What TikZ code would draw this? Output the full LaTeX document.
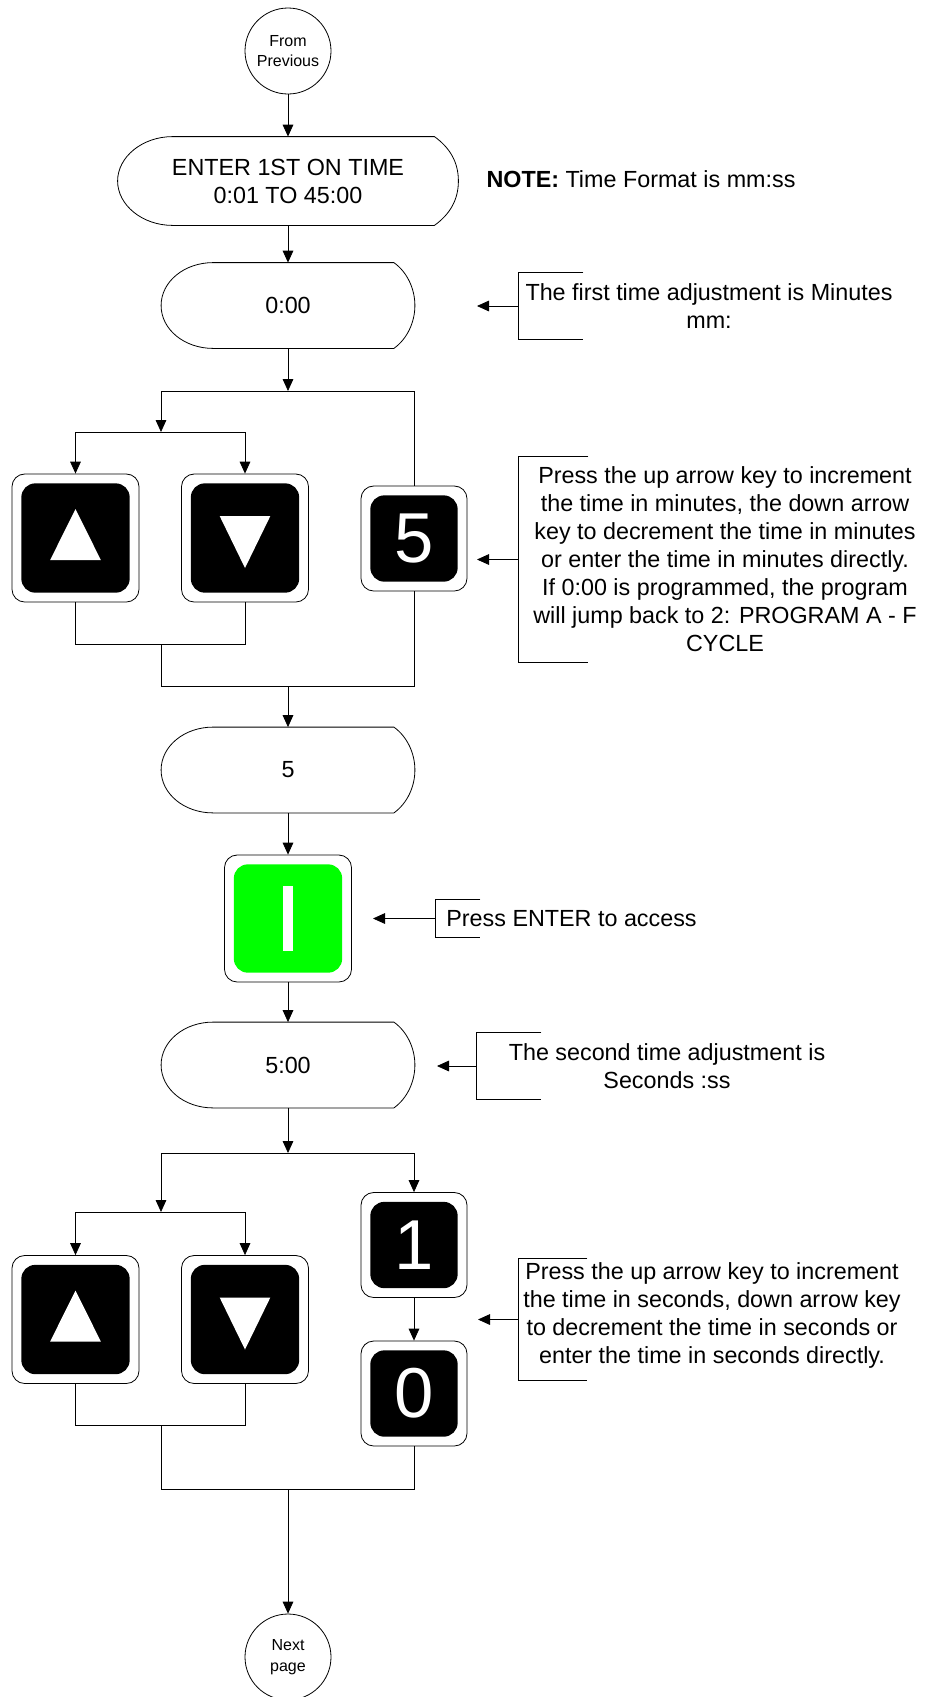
\documentclass[tikz,border=0pt]{standalone}
\usepackage{fontspec}
\setmainfont{Liberation Sans}
\usetikzlibrary{arrows.meta,calc,positioning}
\definecolor{entergreen}{RGB}{0,255,0}

% inner face of a key
\newcommand{\keyface}[1]{\fill[#1, rounded corners=10.5pt]
  ([shift={(7pt,-7pt)}]path picture bounding box.north west) rectangle
  ([shift={(-7pt,7pt)}]path picture bounding box.south east);}
% display outline round a node: node, left inset, right inset
\newcommand{\dispoutline}[3]{\draw ($(#1.north west)+(#2,0)$) -- ($(#1.north east)+(-#3,0)$)
  .. controls +(0.63*#3,0.45*#3) and +(0,-0.8*#3) .. (#1.east)
  .. controls +(0,0.8*#3) and +(0.63*#3,-0.45*#3) .. ($(#1.south east)+(-#3,0)$)
  -- ($(#1.south west)+(#2,0)$)
  .. controls +(-0.552*#2,0) and +(0,24) .. (#1.west)
  .. controls +(0,-24) and +(-0.552*#2,0) .. ($(#1.north west)+(#2,0)$) -- cycle;}

\begin{document}
\begin{tikzpicture}[
    x=0.75pt, y=-0.75pt,
    font=\fontsize{17.5}{21}\selectfont,
    line width=0.6pt,
    arr/.style={-{Triangle[length=9pt,width=8pt]}},
    disp/.style={minimum width=189.75pt, minimum height=63.75pt, inner sep=0pt, align=center},
    circ/.style={draw, circle, minimum size=64.5pt, inner sep=0pt, align=center, font=\fontsize{12}{15.5}\selectfont},
    keyshell/.style={draw, fill=white, rounded corners=9.5pt, inner sep=0pt},
    upkey/.style={keyshell, minimum width=95.25pt, minimum height=96pt,
        path picture={\keyface{black}
            \fill[white, sharp corners] ([shift={(0pt,21.75pt)}]path picture bounding box.center)
            -- ([shift={(-19pt,-16.5pt)}]path picture bounding box.center)
            -- ([shift={(19pt,-16.5pt)}]path picture bounding box.center) -- cycle;}},
    downkey/.style={keyshell, minimum width=95.25pt, minimum height=96pt,
        path picture={\keyface{black}
            \fill[white, sharp corners] ([shift={(0pt,-22.5pt)}]path picture bounding box.center)
            -- ([shift={(-19pt,16.5pt)}]path picture bounding box.center)
            -- ([shift={(19pt,16.5pt)}]path picture bounding box.center) -- cycle;}},
    digitkey/.style={keyshell, minimum width=79.5pt, minimum height=78.75pt,
        text=white, font=\fontsize{53}{53}\selectfont, path picture={\keyface{black}}},
    enterkey/.style={keyshell, minimum width=95.25pt, minimum height=95.25pt,
        path picture={\keyface{entergreen}
            \fill[white, sharp corners] ([shift={(-4pt,24.4pt)}]path picture bounding box.center)
            rectangle ([shift={(4pt,-24.4pt)}]path picture bounding box.center);}},
    bracket/.style={inner sep=0pt},
    note/.style={align=center, inner sep=0pt}
]
\useasboundingbox (0,0) rectangle (930,1697);

% main flow
\node[circ] (prev) at (288,51) {From\\Previous};
\node[disp, minimum width=255pt, minimum height=66pt] (dEnter) at (288,181) {ENTER 1ST ON TIME\\0:01 TO 45:00};
\dispoutline{dEnter}{55}{24}
\node[disp] (dMin) at (288,305.5) {0:00};
\dispoutline{dMin}{52}{21}

\coordinate (j1) at (288,391);
\coordinate (j2) at (161,432);
\node[upkey] (up1) at (75.5,538) {};
\node[downkey] (down1) at (245,538) {};
\node[digitkey] (five) at (414,538.5) {5};
\coordinate (j5) at (161,644);
\coordinate (j6) at (288,686);

\node[disp] (dFive) at (288,770) {5};
\dispoutline{dFive}{52}{21}
\node[enterkey] (enter) at (288,918.5) {};
\node[disp] (dSec) at (288,1065) {5:00};
\dispoutline{dSec}{52}{21}

\coordinate (j7) at (288,1153);
\coordinate (j8) at (161,1212);
\node[upkey] (up2) at (75.5,1319.5) {};
\node[downkey] (down2) at (245,1319.5) {};
\node[digitkey] (one) at (414,1245) {1};
\node[digitkey] (zero) at (414,1393.5) {0};
\coordinate (j9) at (161,1425);
\coordinate (j10) at (288,1489);
\node[circ] (next) at (288,1657) {Next\\page};

% connectors
\draw[arr] (prev) -- (dEnter);
\draw[arr] (dEnter) -- (dMin);
\draw[arr] (dMin) -- (j1);
\draw[arr] (j1) -| (j2);
\draw (j1) -| (five.north);
\draw[arr] (j2) -| (up1.north);
\draw[arr] (j2) -| (down1.north);
\draw (up1.south) |- (j5);
\draw (down1.south) |- (j5);
\draw (j5) |- (j6);
\draw (five.south) |- (j6);
\draw[arr] (j6) -- (dFive);
\draw[arr] (dFive) -- (enter);
\draw[arr] (enter) -- (dSec);
\draw[arr] (dSec) -- (j7);
\draw[arr] (j7) -| (j8);
\draw[arr] (j7) -| (one.north);
\draw[arr] (j8) -| (up2.north);
\draw[arr] (j8) -| (down2.north);
\draw[arr] (one) -- (zero);
\draw (up2.south) |- (j9);
\draw (down2.south) |- (j9);
\draw (j9) |- (j10);
\draw (zero.south) |- (j10);
\draw[arr] (j10) -- (next);

% notes
\node[note] (format) at (641,179) {\textbf{NOTE:} Time Format is mm:ss};

\node[bracket, minimum width=48pt, minimum height=49.5pt] (brA) at (551,306) {};
\draw (brA.north east) -| (brA.south west) -- (brA.south east);
\coordinate (tipA) at (477,306);
\draw[arr] (brA.west) -- (tipA);
\node[note] (txtA) at (709,306) {The first time adjustment is Minutes\\mm:};

\node[bracket, minimum width=51.75pt, minimum height=153.75pt] (brB) at (553.5,559.5) {};
\draw (brB.north east) -| (brB.south west) -- (brB.south east);
\coordinate (tipB) at (477,559.5);
\draw[arr] (brB.west) -- (tipB);
\node[note] (txtB) at (725,559) {Press the up arrow key to increment\\the time in minutes, the down arrow\\key to decrement the time in minutes\\or enter the time in minutes directly.\\If 0:00 is programmed, the program\\will jump back to 2: PROGRAM A - F\\CYCLE};

\node[bracket, minimum width=33pt, minimum height=27.75pt] (brC) at (458,918.5) {};
\draw (brC.north east) -| (brC.south west) -- (brC.south east);
\coordinate (tipC) at (373,918.5);
\draw[arr] (brC.west) -- (tipC);
\node[note, anchor=west] (txtC) at (446,918.5) {Press ENTER to access};

\node[bracket, minimum width=48pt, minimum height=49.5pt] (brD) at (509,1066) {};
\draw (brD.north east) -| (brD.south west) -- (brD.south east);
\coordinate (tipD) at (437,1066);
\draw[arr] (brD.west) -- (tipD);
\node[note] (txtD) at (667,1066) {The second time adjustment is\\Seconds :ss};

\node[bracket, minimum width=51pt, minimum height=90.75pt] (brE) at (553,1319.5) {};
\draw (brE.north east) -| (brE.south west) -- (brE.south east);
\coordinate (tipE) at (478,1319.5);
\draw[arr] (brE.west) -- (tipE);
\node[note] (txtE) at (712,1315) {Press the up arrow key to increment\\the time in seconds, down arrow key\\to decrement the time in seconds or\\enter the time in seconds directly.};
\end{tikzpicture}
\end{document}
